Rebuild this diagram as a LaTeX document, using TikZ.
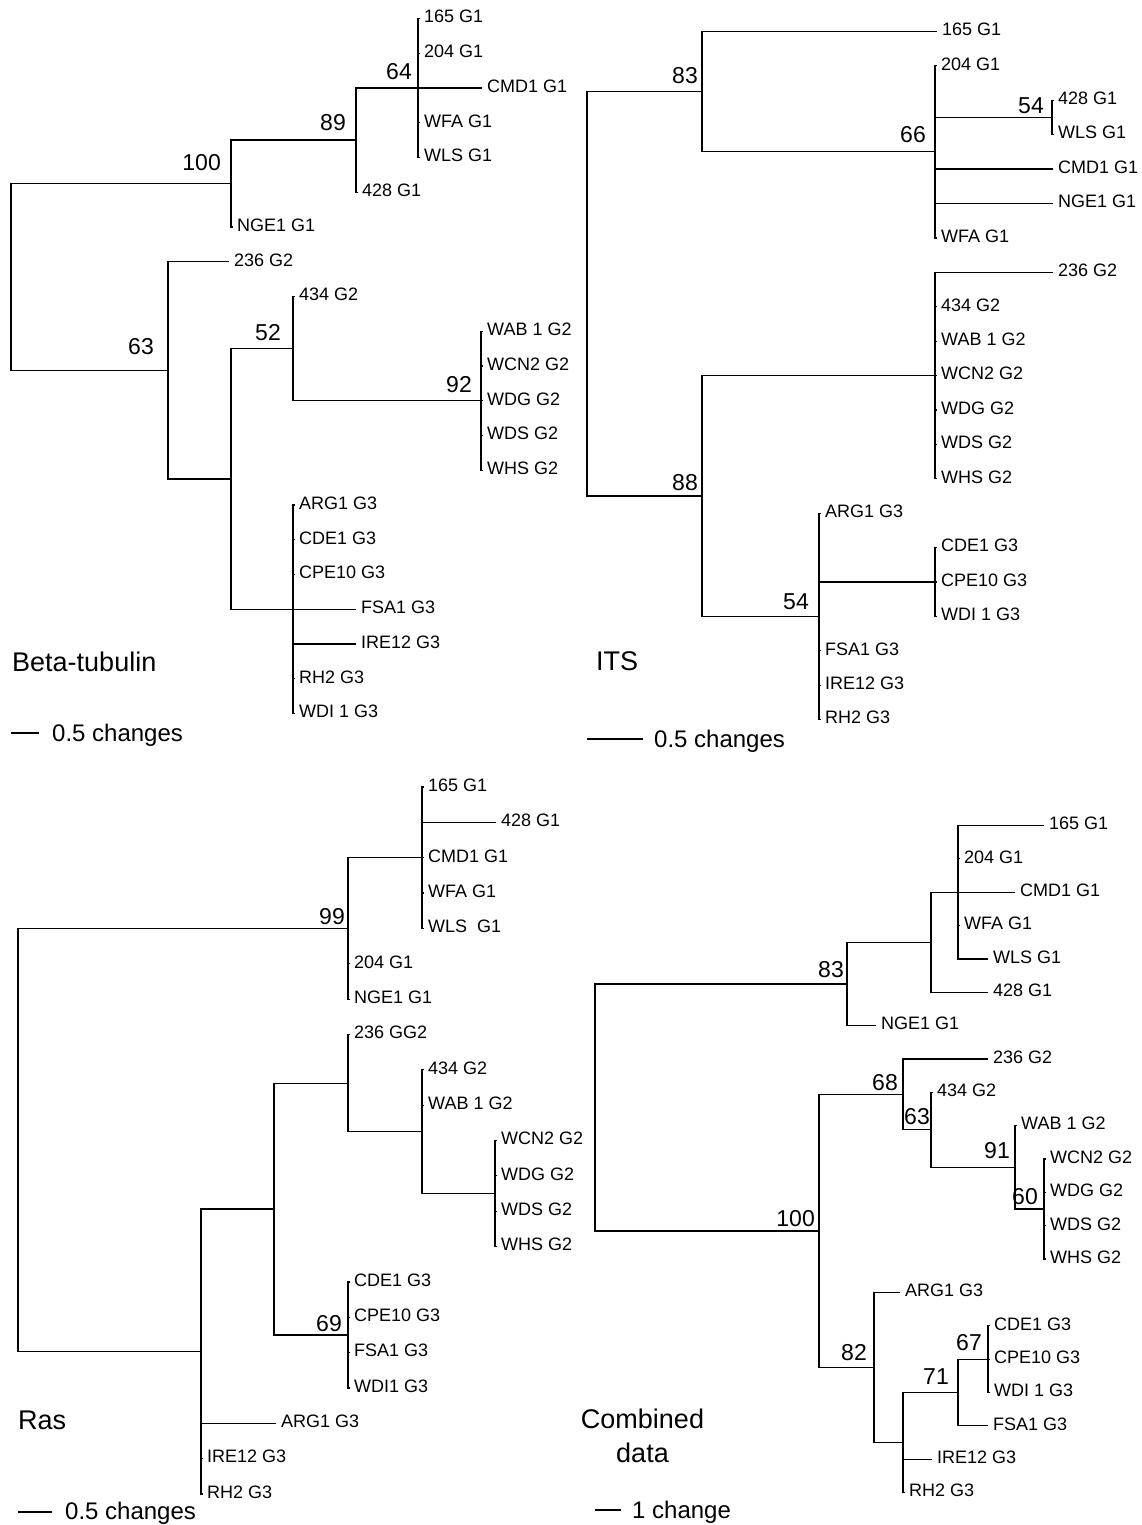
\documentclass[tikz,border=0pt]{standalone}
\usepackage{fontspec}
\setmainfont{Liberation Sans}
\newcommand{\leaffont}{\fontsize{18}{20}\selectfont}
\newcommand{\bootfont}{\fontsize{23}{26}\selectfont}
\newcommand{\ttlfont}{\fontsize{27}{34}\selectfont}
\newcommand{\sclfont}{\fontsize{24}{28}\selectfont}
\tikzset{
 br/.style={line width=1.2pt, line cap=rect},
 tk/.style={br, shorten >=4.5pt},
 bl/.style={br, shorten >=6pt},
 leaf/.style={anchor=west, inner sep=0pt, font=\leaffont, text height=8.6pt, text depth=0pt},
 boot/.style={anchor=east, inner sep=0pt, font=\bootfont},
 ttl/.style={anchor=base west, inner sep=0pt, font=\ttlfont},
 scl/.style={anchor=base west, inner sep=0pt, font=\sclfont},
}
\begin{document}
\begin{tikzpicture}[x=1pt,y=-1pt]
\fill[white] (0,0) rectangle (1141,1525);
\path[use as bounding box] (0,0) rectangle (1141,1525);

% ================= Beta-tubulin =================
\coordinate (bRoot) at (11,277);
\coordinate (b100) at (231,183.6);
\coordinate (b89) at (356,140.1);
\coordinate (b64) at (418,88);
\coordinate (b63) at (168,370.3);
\coordinate (bA) at (231,478.9);
\coordinate (b52) at (293,348.6);
\coordinate (b92) at (481,400.75);
\coordinate (bG3) at (293,609.25);

\node[leaf] (b165) at (424,18.5) {165 G1};
\node[leaf] (b204) at (424,53.25) {204 G1};
\node[leaf] (bCMD) at (487,88) {CMD1 G1};
\node[leaf] (bWFA) at (424,122.75) {WFA G1};
\node[leaf] (bWLS) at (424,157.5) {WLS G1};
\node[leaf] (b428) at (362,192.25) {428 G1};
\node[leaf] (bNGE) at (237,227) {NGE1 G1};
\node[leaf] (b236) at (234,261.75) {236 G2};
\node[leaf] (b434) at (299,296.5) {434 G2};
\node[leaf] (bWAB) at (487,331.25) {WAB 1 G2};
\node[leaf] (bWCN) at (487,366) {WCN2 G2};
\node[leaf] (bWDG) at (487,400.75) {WDG G2};
\node[leaf] (bWDS) at (487,435.5) {WDS G2};
\node[leaf] (bWHS) at (487,470.25) {WHS G2};
\node[leaf] (bARG) at (299,505) {ARG1 G3};
\node[leaf] (bCDE) at (299,539.75) {CDE1 G3};
\node[leaf] (bCPE) at (299,574.5) {CPE10 G3};
\node[leaf] (bFSA) at (361,609.25) {FSA1 G3};
\node[leaf] (bIRE) at (361,644) {IRE12 G3};
\node[leaf] (bRH) at (299,678.75) {RH2 G3};
\node[leaf] (bWDI) at (299,713.5) {WDI 1 G3};

\draw[br] (bRoot) |- (b100);
\draw[br] (bRoot) |- (b63);
\draw[br] (b100) |- (b89);
\draw[tk] (b100) |- (bNGE.west);
\draw[br] (b89) |- (b64);
\draw[tk] (b89) |- (b428.west);
\draw[tk] (b64) |- (b165.west);
\draw[tk] (b64) |- (b204.west);
\draw[bl] (b64) |- (bCMD.west);
\draw[tk] (b64) |- (bWFA.west);
\draw[tk] (b64) |- (bWLS.west);
\draw[bl] (b63) |- (b236.west);
\draw[br] (b63) |- (bA);
\draw[br] (bA) |- (b52);
\draw[br] (bA) |- (bG3);
\draw[tk] (b52) |- (b434.west);
\draw[br] (b52) |- (b92);
\draw[tk] (b92) |- (bWAB.west);
\draw[tk] (b92) |- (bWCN.west);
\draw[tk] (b92) |- (bWDG.west);
\draw[tk] (b92) |- (bWDS.west);
\draw[tk] (b92) |- (bWHS.west);
\draw[tk] (bG3) |- (bARG.west);
\draw[tk] (bG3) |- (bCDE.west);
\draw[tk] (bG3) |- (bCPE.west);
\draw[bl] (bG3) |- (bFSA.west);
\draw[bl] (bG3) |- (bIRE.west);
\draw[tk] (bG3) |- (bRH.west);
\draw[tk] (bG3) |- (bWDI.west);

\node[boot] (bb100) at (221,163) {100};
\node[boot] (bb89) at (346,123) {89};
\node[boot] (bb64) at (412,72) {64};
\node[boot] (bb63) at (154,347) {63};
\node[boot] (bb52) at (281,333) {52};
\node[boot] (bb92) at (472,385) {92};

\node[ttl] (bTitle) at (12,671) {Beta-tubulin};
\coordinate (bs1) at (11,733);
\coordinate (bs2) at (39,733);
\draw[br, line cap=butt] (bs1) -- (bs2);
\node[scl] (bScale) at (52,741.6) {0.5 changes};

% ================= ITS =================
\coordinate (iRoot) at (587,293.8);
\coordinate (i83) at (702,91.7);
\coordinate (i66) at (935,151.9);
\coordinate (i54a) at (1052,117.5);
\coordinate (i88) at (702,495.9);
\coordinate (iG2) at (935,375.5);
\coordinate (i54b) at (819,616.3);
\coordinate (iC) at (935,581.9);

\node[leaf] (i165) at (942,31.5) {165 G1};
\node[leaf] (i204) at (941,65.9) {204 G1};
\node[leaf] (i428) at (1058,100.3) {428 G1};
\node[leaf] (iWLS) at (1058,134.7) {WLS G1};
\node[leaf] (iCMD) at (1058,169.1) {CMD1 G1};
\node[leaf] (iNGE) at (1058,203.5) {NGE1 G1};
\node[leaf] (iWFA) at (941,237.9) {WFA G1};
\node[leaf] (i236) at (1058,272.3) {236 G2};
\node[leaf] (i434) at (941,306.7) {434 G2};
\node[leaf] (iWAB) at (941,341.1) {WAB 1 G2};
\node[leaf] (iWCN) at (941,375.5) {WCN2 G2};
\node[leaf] (iWDG) at (941,409.9) {WDG G2};
\node[leaf] (iWDS) at (941,444.3) {WDS G2};
\node[leaf] (iWHS) at (941,478.7) {WHS G2};
\node[leaf] (iARG) at (825,513.1) {ARG1 G3};
\node[leaf] (iCDE) at (941,547.5) {CDE1 G3};
\node[leaf] (iCPE) at (941,581.9) {CPE10 G3};
\node[leaf] (iWDI) at (941,616.3) {WDI 1 G3};
\node[leaf] (iFSA) at (825,650.7) {FSA1 G3};
\node[leaf] (iIRE) at (825,685.1) {IRE12 G3};
\node[leaf] (iRH) at (825,719.5) {RH2 G3};

\draw[br] (iRoot) |- (i83);
\draw[br] (iRoot) |- (i88);
\draw[bl] (i83) |- (i165.west);
\draw[br] (i83) |- (i66);
\draw[tk] (i66) |- (i204.west);
\draw[br] (i66) |- (i54a);
\draw[tk] (i54a) |- (i428.west);
\draw[tk] (i54a) |- (iWLS.west);
\draw[bl] (i66) |- (iCMD.west);
\draw[bl] (i66) |- (iNGE.west);
\draw[tk] (i66) |- (iWFA.west);
\draw[br] (i88) |- (iG2);
\draw[br] (i88) |- (i54b);
\draw[bl] (iG2) |- (i236.west);
\draw[tk] (iG2) |- (i434.west);
\draw[tk] (iG2) |- (iWAB.west);
\draw[tk] (iG2) |- (iWCN.west);
\draw[tk] (iG2) |- (iWDG.west);
\draw[tk] (iG2) |- (iWDS.west);
\draw[tk] (iG2) |- (iWHS.west);
\draw[tk] (i54b) |- (iARG.west);
\draw[br] (i54b) |- (iC);
\draw[tk] (iC) |- (iCDE.west);
\draw[tk] (iC) |- (iCPE.west);
\draw[tk] (iC) |- (iWDI.west);
\draw[tk] (i54b) |- (iFSA.west);
\draw[tk] (i54b) |- (iIRE.west);
\draw[tk] (i54b) |- (iRH.west);

\node[boot] (ib83) at (698,76) {83};
\node[boot] (ib66) at (926,135) {66};
\node[boot] (ib54a) at (1044,106) {54};
\node[boot] (ib88) at (698,483) {88};
\node[boot] (ib54b) at (809,602) {54};

\node[ttl] (iTitle) at (596,670) {ITS};
\coordinate (is1) at (587,739);
\coordinate (is2) at (643,739);
\draw[br, line cap=butt] (is1) -- (is2);
\node[scl] (iScale) at (654,747.6) {0.5 changes};

% ================= Ras =================
\coordinate (rRoot) at (18,1140);
\coordinate (r99) at (348,928.4);
\coordinate (rG1) at (422,857.7);
\coordinate (rB) at (201,1351.5);
\coordinate (rC) at (274,1209);
\coordinate (rD) at (348,1083.1);
\coordinate (rE) at (422,1131.7);
\coordinate (rF) at (495,1193.5);
\coordinate (r69) at (348,1334.9);

\node[leaf] (r165) at (428,787) {165 G1};
\node[leaf] (r428) at (501,822.35) {428 G1};
\node[leaf] (rCMD) at (428,857.7) {CMD1 G1};
\node[leaf] (rWFA) at (428,893.05) {WFA G1};
\node[leaf] (rWLS) at (428,928.4) {WLS\ \ G1};
\node[leaf] (r204) at (354,963.75) {204 G1};
\node[leaf] (rNGE) at (354,999.1) {NGE1 G1};
\node[leaf] (r236) at (354,1034.45) {236 GG2};
\node[leaf] (r434) at (428,1069.8) {434 G2};
\node[leaf] (rWAB) at (428,1105.15) {WAB 1 G2};
\node[leaf] (rWCN) at (501,1140.5) {WCN2 G2};
\node[leaf] (rWDG) at (501,1175.85) {WDG G2};
\node[leaf] (rWDS) at (501,1211.2) {WDS G2};
\node[leaf] (rWHS) at (501,1246.55) {WHS G2};
\node[leaf] (rCDE) at (354,1281.9) {CDE1 G3};
\node[leaf] (rCPE) at (354,1317.25) {CPE10 G3};
\node[leaf] (rFSA) at (354,1352.6) {FSA1 G3};
\node[leaf] (rWDI) at (354,1387.95) {WDI1 G3};
\node[leaf] (rARG) at (281,1423.3) {ARG1 G3};
\node[leaf] (rIRE) at (207,1458.65) {IRE12 G3};
\node[leaf] (rRH) at (207,1494) {RH2 G3};

\draw[br] (rRoot) |- (r99);
\draw[br] (rRoot) |- (rB);
\draw[br] (r99) |- (rG1);
\draw[tk] (r99) |- (r204.west);
\draw[tk] (r99) |- (rNGE.west);
\draw[tk] (rG1) |- (r165.west);
\draw[bl] (rG1) |- (r428.west);
\draw[tk] (rG1) |- (rCMD.west);
\draw[tk] (rG1) |- (rWFA.west);
\draw[tk] (rG1) |- (rWLS.west);
\draw[br] (rB) |- (rC);
\draw[bl] (rB) |- (rARG.west);
\draw[tk] (rB) |- (rIRE.west);
\draw[tk] (rB) |- (rRH.west);
\draw[br] (rC) |- (rD);
\draw[br] (rC) |- (r69);
\draw[tk] (rD) |- (r236.west);
\draw[br] (rD) |- (rE);
\draw[tk] (rE) |- (r434.west);
\draw[tk] (rE) |- (rWAB.west);
\draw[br] (rE) |- (rF);
\draw[tk] (rF) |- (rWCN.west);
\draw[tk] (rF) |- (rWDG.west);
\draw[tk] (rF) |- (rWDS.west);
\draw[tk] (rF) |- (rWHS.west);
\draw[tk] (r69) |- (rCDE.west);
\draw[tk] (r69) |- (rCPE.west);
\draw[tk] (r69) |- (rFSA.west);
\draw[tk] (r69) |- (rWDI.west);

\node[boot] (rb99) at (345,917) {99};
\node[boot] (rb69) at (342,1324) {69};

\node[ttl] (rTitle) at (18,1429) {Ras};
\coordinate (rs1) at (18,1512);
\coordinate (rs2) at (52,1512);
\draw[br, line cap=butt] (rs1) -- (rs2);
\node[scl] (rScale) at (65,1519.6) {0.5 changes};

% ================= Combined =================
\coordinate (cRoot) at (595,1107.4);
\coordinate (c83) at (847,983.9);
\coordinate (cP) at (931,942.2);
\coordinate (cQ) at (958,892.2);
\coordinate (c100) at (819,1230.9);
\coordinate (c68) at (903,1094.4);
\coordinate (c63) at (931,1129.8);
\coordinate (c91) at (1015,1167.35);
\coordinate (c60) at (1044,1209.05);
\coordinate (c82) at (874,1367.45);
\coordinate (cR) at (903,1442.5);
\coordinate (c71) at (958,1392.45);
\coordinate (c67) at (988,1359.1);

\node[leaf] (c165) at (1049,825.5) {165 G1};
\node[leaf] (c204) at (964,858.85) {204 G1};
\node[leaf] (cCMD) at (1020,892.2) {CMD1 G1};
\node[leaf] (cWFA) at (964,925.55) {WFA G1};
\node[leaf] (cWLS) at (993,958.9) {WLS G1};
\node[leaf] (c428) at (993,992.25) {428 G1};
\node[leaf] (cNGE) at (881,1025.6) {NGE1 G1};
\node[leaf] (c236) at (993,1058.95) {236 G2};
\node[leaf] (c434) at (937,1092.3) {434 G2};
\node[leaf] (cWAB) at (1021,1125.65) {WAB 1 G2};
\node[leaf] (cWCN) at (1050,1159) {WCN2 G2};
\node[leaf] (cWDG) at (1050,1192.35) {WDG G2};
\node[leaf] (cWDS) at (1050,1225.7) {WDS G2};
\node[leaf] (cWHS) at (1050,1259.05) {WHS G2};
\node[leaf] (cARG) at (905,1292.4) {ARG1 G3};
\node[leaf] (cCDE) at (994,1325.75) {CDE1 G3};
\node[leaf] (cCPE) at (994,1359.1) {CPE10 G3};
\node[leaf] (cWDI) at (994,1392.45) {WDI 1 G3};
\node[leaf] (cFSA) at (993,1425.8) {FSA1 G3};
\node[leaf] (cIRE) at (937,1459.15) {IRE12 G3};
\node[leaf] (cRH) at (909,1492.5) {RH2 G3};

\draw[br] (cRoot) |- (c83);
\draw[br] (cRoot) |- (c100);
\draw[br] (c83) |- (cP);
\draw[bl] (c83) |- (cNGE.west);
\draw[br] (cP) |- (cQ);
\draw[bl] (cP) |- (c428.west);
\draw[bl] (cQ) |- (c165.west);
\draw[tk] (cQ) |- (c204.west);
\draw[bl] (cQ) |- (cCMD.west);
\draw[tk] (cQ) |- (cWFA.west);
\draw[bl] (cQ) |- (cWLS.west);
\draw[br] (c100) |- (c68);
\draw[br] (c100) |- (c82);
\draw[bl] (c68) |- (c236.west);
\draw[br] (c68) |- (c63);
\draw[tk] (c63) |- (c434.west);
\draw[br] (c63) |- (c91);
\draw[tk] (c91) |- (cWAB.west);
\draw[br] (c91) |- (c60);
\draw[tk] (c60) |- (cWCN.west);
\draw[tk] (c60) |- (cWDG.west);
\draw[tk] (c60) |- (cWDS.west);
\draw[tk] (c60) |- (cWHS.west);
\draw[bl] (c82) |- (cARG.west);
\draw[br] (c82) |- (cR);
\draw[br] (cR) |- (c71);
\draw[bl] (cR) |- (cIRE.west);
\draw[tk] (cR) |- (cRH.west);
\draw[br] (c71) |- (c67);
\draw[bl] (c71) |- (cFSA.west);
\draw[tk] (c67) |- (cCDE.west);
\draw[tk] (c67) |- (cCPE.west);
\draw[tk] (c67) |- (cWDI.west);

\node[boot] (cb83) at (844,970) {83};
\node[boot] (cb68) at (898,1083) {68};
\node[boot] (cb63) at (930,1117) {63};
\node[boot] (cb91) at (1010,1151) {91};
\node[boot] (cb60) at (1038,1197) {60};
\node[boot] (cb100) at (815,1219) {100};
\node[boot] (cb82) at (867,1353) {82};
\node[boot] (cb71) at (949,1377) {71};
\node[boot] (cb67) at (982,1343) {67};

\node[ttl, anchor=base] (cTitle1) at (642.5,1428) {Combined};
\node[ttl, anchor=base] (cTitle2) at (642.5,1462) {data};
\coordinate (cs1) at (595,1510);
\coordinate (cs2) at (621,1510);
\draw[br, line cap=butt] (cs1) -- (cs2);
\node[scl] (cScale) at (632,1518.6) {1 change};

\end{tikzpicture}
\end{document}
